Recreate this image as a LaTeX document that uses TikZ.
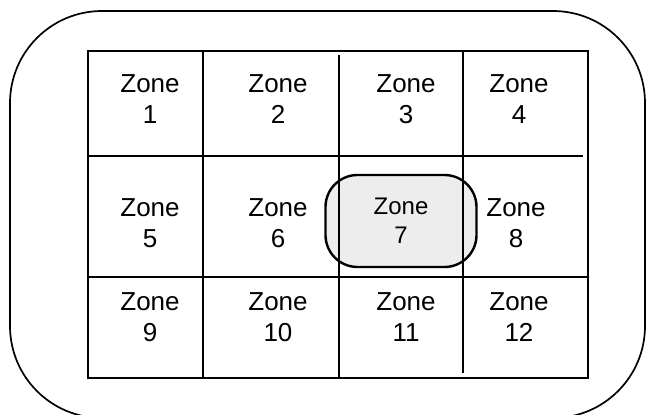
\documentclass[tikz,border=0pt]{standalone}
\usepackage{fontspec}
\setmainfont{Liberation Sans}

\begin{document}
\begin{tikzpicture}[
  x=1pt, y=-1pt,
  zone/.style={align=center, inner sep=0pt, font=\fontsize{26}{31}\selectfont},
  spot/.style={rectangle, rounded corners=32pt, draw=black, line width=2.4pt, fill=black!7,
               minimum width=151pt, minimum height=92pt, align=center, inner sep=0pt,
               font=\fontsize{24}{29}\selectfont},
  frame/.style={draw=black, line width=1.7pt, rounded corners=92pt},
  gridline/.style={draw=black, line width=2.6pt},
]
\useasboundingbox (0,0) rectangle (646,415);

% outer border
\draw[frame] (10,11) rectangle (645,418);

% highlighted zone
\node[spot] (z7) at (401,221) {Zone\\7};

% grid
\draw[gridline] (88,51) rectangle (588,378);
\draw[gridline] (88,156) -- (583,156);
\draw[gridline] (88,277) -- (589,277);
\draw[gridline] (203,51) -- (203,378);
\draw[gridline] (339,55) -- (339,378);
\draw[gridline] (463,51) -- (463,373);

% top row
\node[zone] (z1) at (150,99.5) {Zone\\1};
\node[zone] (z2) at (278,99.5) {Zone\\2};
\node[zone] (z3) at (406,99.5) {Zone\\3};
\node[zone] (z4) at (519,99.5) {Zone\\4};

% middle row
\node[zone] (z5) at (150,223) {Zone\\5};
\node[zone] (z6) at (278,223) {Zone\\6};
\node[zone] (z8) at (516,223) {Zone\\8};

% bottom row
\node[zone] (z9)  at (150,317.5) {Zone\\9};
\node[zone] (z10) at (278,317.5) {Zone\\10};
\node[zone] (z11) at (406,317.5) {Zone\\11};
\node[zone] (z12) at (519,317.5) {Zone\\12};

\end{tikzpicture}
\end{document}
